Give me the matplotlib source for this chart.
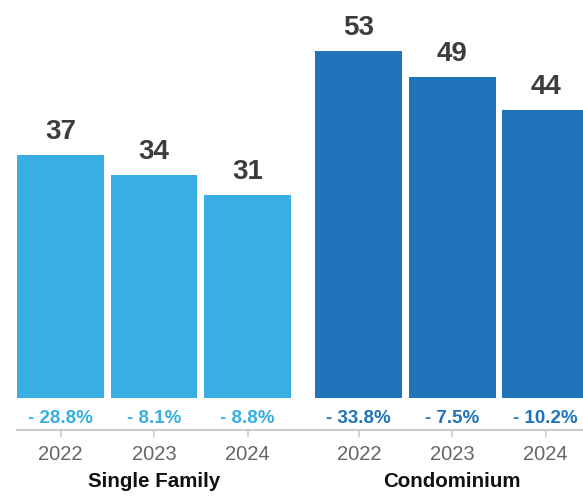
import numpy as np
import matplotlib.pyplot as plt
import matplotlib.transforms as mtransforms

plt.rcParams['font.family'] = ['Liberation Sans', 'DejaVu Sans']

# Datos
years = ['2022', '2023', '2024']
groups = ['Single Family', 'Condominium']
single_family = [37, 34, 31]
condominium = [53, 49, 44]
sf_change = ['- 28.8%', '- 8.1%', '- 8.8%']
condo_change = ['- 33.8%', '- 7.5%', '- 10.2%']

colors = ['#38aee2', '#1f74ba']
values = [single_family, condominium]
changes = [sf_change, condo_change]

fig = plt.figure(figsize=(5.83, 4.96), dpi=100)
# eje: borde inferior = linea gris (px 430), arriba = borde de la figura
ax = fig.add_axes([0, 66 / 496, 1, 430 / 496])

group_offset = 3.19
width = 0.93
px_per_unit = 6.555

ax.set_xlim(-60.5 / 93.5, (583 - 60.5) / 93.5)
ax.set_ylim(-32 / px_per_unit, 398 / px_per_unit)
trans = mtransforms.blended_transform_factory(ax.transData, fig.transFigure)

tick_pos = []
tick_lab = []
for g in range(2):
    x = np.arange(3) + g * group_offset
    ax.bar(x, values[g], width=width, color=colors[g])
    for xi, v, c in zip(x, values[g], changes[g]):
        ax.annotate(str(v), (xi, v), xytext=(0, 11.5), textcoords='offset points',
                    ha='center', va='baseline', fontsize=20, fontweight='bold',
                    color='#3d3d3d')
        ax.annotate(c, (xi, 0), xytext=(0, -18), textcoords='offset points',
                    ha='center', va='baseline', fontsize=13.5, fontweight='bold',
                    color=colors[g])
    tick_pos.extend(x)
    tick_lab.extend(years)
    ax.text(x[1], 9 / 496, groups[g], transform=trans, ha='center',
            va='baseline', fontsize=14.8, fontweight='bold', color='#111111')

ax.set_xticks(tick_pos)
ax.set_xticklabels(tick_lab, fontsize=14.5, color='#666666')
ax.tick_params(axis='x', length=5, width=1.2, color='#cccccc', pad=6)
ax.set_yticks([])
for s in ['top', 'left', 'right']:
    ax.spines[s].set_visible(False)
ax.spines['bottom'].set_color('#cccccc')
ax.spines['bottom'].set_linewidth(1.5)
ax.spines['bottom'].set_bounds(-width / 2, ax.get_xlim()[1])

fig.savefig('out.png', dpi=100)
